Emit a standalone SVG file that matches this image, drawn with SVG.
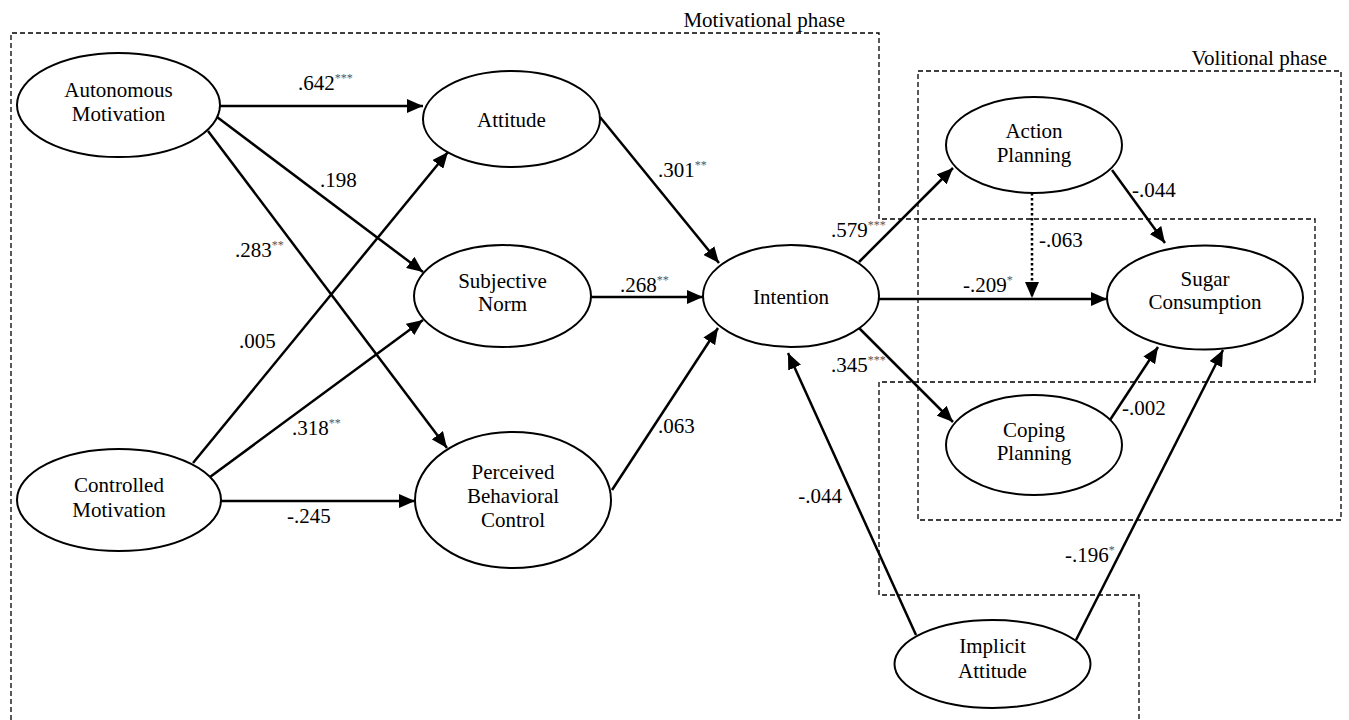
<svg xmlns="http://www.w3.org/2000/svg" width="1349" height="720" viewBox="0 0 1349 720" font-family="'Liberation Serif', 'Times New Roman', Times, serif">
<defs>
<marker id="ah" markerUnits="userSpaceOnUse" markerWidth="16" markerHeight="14" refX="16" refY="7" orient="auto">
<path d="M0,0 L16,7 L0,14 z" fill="#000"/>
</marker>
<style>
text{font-family:'Liberation Serif', 'Times New Roman', Times, serif;font-size:21px;fill:#000}
.node ellipse{fill:#fff;stroke:#000;stroke-width:2}
.node text{text-anchor:middle}
.sup{font-size:12px;fill:#555}
.edge{stroke:#000;stroke-width:2.5;fill:none;marker-end:url(#ah)}
.dot{stroke-dasharray:2.5,2.5}
.box{fill:none;stroke:#000;stroke-width:1.3;stroke-dasharray:5,3}
</style>
</defs>
<rect width="1349" height="720" fill="#fff"/>
<g id="phases">
<path class="box" d="M11,720 V33 H879 V219 H1315 V382 H879 V595 H1139 V720"/>
<rect class="box" x="918" y="71" width="423" height="449"/>
<text x="845" y="27" text-anchor="end" font-family="Liberation Serif">Motivational phase</text>
<text x="1327" y="65" text-anchor="end" font-family="Liberation Serif">Volitional phase</text>
</g>
<g id="connectors" font-family="Liberation Serif">
<line class="edge" x1="220" y1="106" x2="423" y2="106"/>
<line class="edge" x1="217" y1="117" x2="423" y2="272"/>
<line class="edge" x1="208" y1="131" x2="447" y2="448"/>
<line class="edge" x1="193" y1="463" x2="448" y2="152"/>
<line class="edge" x1="210" y1="477" x2="423" y2="320"/>
<line class="edge" x1="221" y1="501" x2="415" y2="501"/>
<line class="edge" x1="600" y1="117" x2="719" y2="263"/>
<line class="edge" x1="591" y1="297" x2="703" y2="297"/>
<line class="edge" x1="612" y1="490" x2="718" y2="328"/>
<line class="edge" x1="859" y1="262" x2="953" y2="168"/>
<line class="edge" x1="879" y1="299" x2="1107" y2="299"/>
<line class="edge" x1="859" y1="328" x2="953" y2="422"/>
<line class="edge" x1="1112" y1="170" x2="1165" y2="243"/>
<line class="edge dot" x1="1032" y1="193" x2="1032" y2="298"/>
<line class="edge" x1="1110" y1="420" x2="1158" y2="347"/>
<line class="edge" x1="916" y1="635" x2="788" y2="353"/>
<line class="edge" x1="1076" y1="640" x2="1223" y2="350"/>
<text x="298" y="90">.642<tspan class="sup" dy="-8">***</tspan></text>
<text x="320" y="187">.198</text>
<text x="235" y="257">.283<tspan class="sup" dy="-8">**</tspan></text>
<text x="239" y="348">.005</text>
<text x="292" y="435">.318<tspan class="sup" dy="-8">**</tspan></text>
<text x="287" y="523">-.245</text>
<text x="658" y="177">.301<tspan class="sup" dy="-8">**</tspan></text>
<text x="620" y="292">.268<tspan class="sup" dy="-8">**</tspan></text>
<text x="658" y="433">.063</text>
<text x="831" y="237">.579<tspan class="sup" dy="-8">***</tspan></text>
<text x="963" y="292">-.209<tspan class="sup" dy="-8">*</tspan></text>
<text x="831" y="372">.345<tspan class="sup" dy="-8">***</tspan></text>
<text x="1132" y="197">-.044</text>
<text x="1039" y="247">-.063</text>
<text x="1122" y="415">-.002</text>
<text x="842" y="503" text-anchor="end">-.044</text>
<text x="1065" y="562">-.196<tspan class="sup" dy="-8">*</tspan></text>
</g>
<g id="autonomous" class="node"><ellipse cx="118.5" cy="105" rx="101.5" ry="52"/><text x="118.5" y="97">Autonomous</text><text x="118.5" y="121">Motivation</text></g>
<g id="controlled" class="node"><ellipse cx="119" cy="500" rx="102" ry="51"/><text x="119" y="492">Controlled</text><text x="119" y="517">Motivation</text></g>
<g id="attitude" class="node"><ellipse cx="511.5" cy="119" rx="88.5" ry="48"/><text x="511.5" y="127">Attitude</text></g>
<g id="subjective" class="node"><ellipse cx="502.5" cy="296" rx="88.5" ry="51"/><text x="502.5" y="288">Subjective</text><text x="502.5" y="311">Norm</text></g>
<g id="pbc" class="node"><ellipse cx="513" cy="500" rx="98" ry="68"/><text x="513" y="479">Perceived</text><text x="513" y="503">Behavioral</text><text x="513" y="527">Control</text></g>
<g id="intention" class="node"><ellipse cx="791" cy="296" rx="88" ry="51"/><text x="791" y="304">Intention</text></g>
<g id="action" class="node"><ellipse cx="1034" cy="145" rx="88" ry="48"/><text x="1034" y="138">Action</text><text x="1034" y="162">Planning</text></g>
<g id="sugar" class="node"><ellipse cx="1205" cy="297.5" rx="98" ry="52"/><text x="1205" y="286">Sugar</text><text x="1205" y="309">Consumption</text></g>
<g id="coping" class="node"><ellipse cx="1034" cy="445" rx="88" ry="50"/><text x="1034" y="437">Coping</text><text x="1034" y="460">Planning</text></g>
<g id="implicit" class="node"><ellipse cx="992.5" cy="664" rx="98" ry="44"/><text x="992.5" y="653">Implicit</text><text x="992.5" y="678">Attitude</text></g>
</svg>
